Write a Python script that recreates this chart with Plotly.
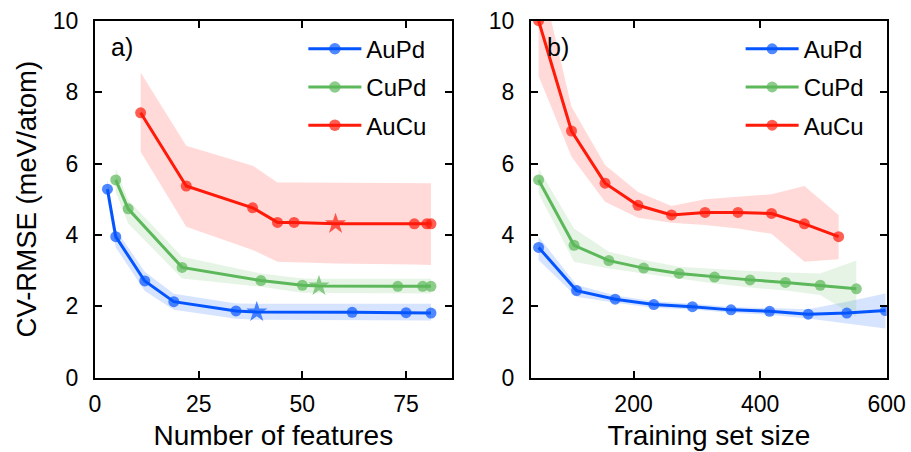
import plotly.graph_objects as go

# ---- (a) error vs. number of features ----
feat_aupd = [3, 5, 12, 19, 34, 39, 62, 75, 81]
rmse_aupd = [5.28, 3.95, 2.71, 2.13, 1.87, 1.84, 1.83, 1.82, 1.81]
lo_aupd = [5.0, 3.65, 2.43, 1.9, 1.65, 1.62, 1.61, 1.6, 1.6]
hi_aupd = [5.55, 4.15, 2.97, 2.35, 2.08, 2.07, 2.07, 2.07, 2.07]
best_aupd = 5

feat_cupd = [5, 8, 21, 40, 50, 54, 73, 79, 81]
rmse_cupd = [5.54, 4.73, 3.09, 2.72, 2.59, 2.57, 2.56, 2.56, 2.56]
lo_cupd = [5.2, 4.32, 2.78, 2.55, 2.38, 2.37, 2.36, 2.36, 2.36]
hi_cupd = [5.85, 4.98, 3.39, 2.92, 2.78, 2.77, 2.77, 2.77, 2.77]
best_cupd = 5

feat_aucu = [11, 22, 38, 44, 48, 58, 77, 80, 81]
rmse_aucu = [7.42, 5.37, 4.76, 4.35, 4.35, 4.31, 4.31, 4.31, 4.31]
lo_aucu = [6.33, 4.23, 3.58, 3.25, 3.24, 3.2, 3.17, 3.16, 3.16]
hi_aucu = [8.55, 6.5, 5.94, 5.47, 5.47, 5.46, 5.45, 5.45, 5.45]
best_aucu = 5

# ---- (b) error vs. training set size ----
size_aupd = [50, 110, 171, 232, 293, 354, 415, 476, 537, 598]
rmse_aupd_b = [3.65, 2.44, 2.2, 2.05, 1.99, 1.9, 1.86, 1.78, 1.81, 1.88]
lo_aupd_b = [3.3, 2.27, 2.1, 1.96, 1.91, 1.82, 1.76, 1.66, 1.52, 1.38]
hi_aupd_b = [3.95, 2.6, 2.3, 2.14, 2.07, 1.98, 1.95, 1.92, 2.13, 2.36]

size_cupd = [50, 106, 161, 216, 272, 328, 384, 440, 495, 552]
rmse_cupd_b = [5.54, 3.71, 3.28, 3.07, 2.92, 2.82, 2.74, 2.67, 2.59, 2.49]
lo_cupd_b = [5.16, 3.25, 3.06, 2.92, 2.78, 2.64, 2.53, 2.44, 2.32, 1.71]
hi_cupd_b = [5.86, 4.18, 3.53, 3.3, 3.11, 3.04, 2.99, 2.95, 2.92, 3.28]

size_aucu = [50, 102, 155, 207, 260, 313, 365, 418, 470, 524]
rmse_aucu_b = [10.0, 6.91, 5.45, 4.83, 4.56, 4.63, 4.63, 4.6, 4.31, 3.95]
lo_aucu_b = [8.45, 6.19, 4.93, 4.48, 4.34, 4.28, 4.18, 4.03, 3.25, 3.32]
hi_aucu_b = [11.5, 7.59, 5.96, 5.2, 4.81, 5.0, 5.07, 5.14, 5.37, 4.56]

names = ["AuPd", "CuPd", "AuCu"]
colors = ["#0555ff", "#5cb85a", "#ff1a0a"]
bands = ["rgba(10,92,255,0.17)", "rgba(92,184,90,0.16)", "rgba(255,26,10,0.16)"]

FONT = "Liberation Sans, Arial, sans-serif"

fig = go.Figure()


def add_band(x, lo, hi, fillcolor, xa, ya):
    fig.add_trace(go.Scatter(
        x=list(x) + list(x)[::-1], y=list(hi) + list(lo)[::-1],
        fill="toself", fillcolor=fillcolor, line=dict(width=0),
        mode="lines", hoverinfo="skip", showlegend=False,
        xaxis=xa, yaxis=ya))


def add_line(x, y, name, color, xa, ya, legend, best=None):
    symbols = ["circle"] * len(x)
    sizes = [11] * len(x)
    if best is not None:
        symbols[best] = "star"
        sizes[best] = 16
    fig.add_trace(go.Scatter(
        x=x, y=y, name=name, mode="lines+markers",
        line=dict(color=color, width=3),
        marker=dict(color=color, size=sizes, symbol=symbols, line=dict(width=0)),
        xaxis=xa, yaxis=ya, legend=legend, legendgroup=name + legend))


panel_a = [(feat_aupd, rmse_aupd, lo_aupd, hi_aupd, best_aupd),
           (feat_cupd, rmse_cupd, lo_cupd, hi_cupd, best_cupd),
           (feat_aucu, rmse_aucu, lo_aucu, hi_aucu, best_aucu)]
panel_b = [(size_aupd, rmse_aupd_b, lo_aupd_b, hi_aupd_b),
           (size_cupd, rmse_cupd_b, lo_cupd_b, hi_cupd_b),
           (size_aucu, rmse_aucu_b, lo_aucu_b, hi_aucu_b)]

for (x, y, lo, hi, best), c, b in zip(panel_a, colors, bands):
    add_band(x, lo, hi, b, "x", "y")
for (x, y, lo, hi), c, b in zip(panel_b, colors, bands):
    add_band(x, lo, hi, b, "x2", "y2")
for (x, y, lo, hi, best), n, c in zip(panel_a, names, colors):
    add_line(x, y, n, c, "x", "y", "legend", best)
for (x, y, lo, hi), n, c in zip(panel_b, names, colors):
    add_line(x, y, n, c, "x2", "y2", "legend2")

axis_common = dict(
    showline=True, linecolor="black", linewidth=2, mirror="ticks",
    ticks="inside", ticklen=7, tickwidth=1.5, tickcolor="black",
    showgrid=False, zeroline=False, automargin=False,
    tickfont=dict(family=FONT, size=23, color="black"),
)

Y0, Y1 = 1 - 377.7 / 452, 1 - 20.7 / 452

fig.update_layout(
    width=911, height=452,
    margin=dict(l=0, r=0, t=0, b=0, autoexpand=False),
    paper_bgcolor="white", plot_bgcolor="white",
    font=dict(family=FONT, color="black"),
    xaxis=dict(axis_common, domain=[95 / 911, 451.7 / 911], range=[0, 86],
               tickvals=[0, 25, 50, 75], anchor="y", ticklabelstandoff=5,
               title=dict(text="Number of features", font=dict(size=28), standoff=9)),
    yaxis=dict(axis_common, domain=[Y0, Y1], range=[0, 10], dtick=2, anchor="x",
               ticklabelstandoff=10,
               title=dict(text="CV-RMSE (meV/atom)", font=dict(size=27.5), standoff=8)),
    xaxis2=dict(axis_common, domain=[531 / 911, 886.7 / 911], range=[38, 600],
                tickvals=[200, 400, 600], anchor="y2", ticklabelstandoff=5,
                title=dict(text="Training set size", font=dict(size=28), standoff=9)),
    yaxis2=dict(axis_common, domain=[Y0, Y1], range=[0, 10], dtick=2, anchor="x2",
                ticklabelstandoff=10),
    legend=dict(x=0.333, y=0.941, xanchor="left", yanchor="top",
                bgcolor="rgba(0,0,0,0)", font=dict(size=24, family=FONT),
                itemwidth=53, tracegroupgap=4),
    legend2=dict(x=0.813, y=0.941, xanchor="left", yanchor="top",
                 bgcolor="rgba(0,0,0,0)", font=dict(size=24, family=FONT),
                 itemwidth=53, tracegroupgap=4),
    annotations=[
        dict(text="a)", x=0.04, y=0.925, xref="x domain", yref="y domain",
             xanchor="left", yanchor="middle", showarrow=False,
             font=dict(size=25, family=FONT)),
        dict(text="b)", x=0.04, y=0.925, xref="x2 domain", yref="y2 domain",
             xanchor="left", yanchor="middle", showarrow=False,
             font=dict(size=25, family=FONT)),
    ],
)

fig.write_html("out.html")
